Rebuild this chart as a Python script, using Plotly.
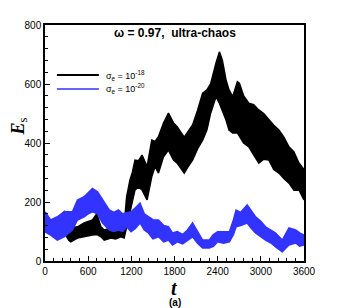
import plotly.graph_objects as go

# ---- data (envelope of the fast oscillation) ----
t_black = [0, 60, 120, 180, 270, 330, 358, 451, 544, 600, 660, 720, 777, 823, 917, 980,
           1056, 1100, 1135, 1181, 1214, 1251, 1300, 1349, 1419, 1484, 1530, 1577, 1647,
           1716, 1786, 1837, 1935, 1990, 2051, 2120, 2191, 2250, 2302, 2377, 2424, 2465,
           2516, 2558, 2609, 2674, 2702, 2760, 2833, 2900, 2972, 3040, 3112, 3180, 3251,
           3320, 3391, 3460, 3530, 3600]
black_lo = [105, 95, 85, 80, 95, 70, 65, 78, 82, 85, 88, 90, 82, 71, 78, 75,
            82, 78, 120, 173, 200, 241, 250, 241, 207, 286, 320, 298, 353,
            376, 342, 332, 298, 320, 342, 380, 410, 444, 501, 557, 535, 512,
            478, 444, 434, 434, 421, 400, 387, 360, 332, 345, 342, 310, 298,
            280, 264, 240, 241, 207]
black_hi = [150, 135, 140, 145, 167, 120, 112, 116, 129, 133, 139, 160, 116, 105, 112, 115,
            116, 120, 218, 275, 300, 342, 340, 359, 320, 410, 405, 421, 468,
            501, 468, 455, 420, 440, 461, 510, 569, 580, 600, 671, 709, 681,
            614, 580, 557, 608, 603, 560, 535, 530, 512, 500, 478, 460, 444,
            420, 387, 370, 332, 310]

t_blue = [0, 79, 172, 265, 381, 451, 544, 600, 660, 730, 800, 893, 960, 1019, 1080, 1135,
          1196, 1256, 1321, 1380, 1437, 1500, 1577, 1650, 1716, 1772, 1840, 1912, 1980,
          2051, 2120, 2191, 2284, 2340, 2400, 2480, 2563, 2620, 2656, 2720, 2810, 2870,
          2926, 3000, 3065, 3140, 3205, 3298, 3391, 3484, 3540, 3600]
blue_lo = [99, 88, 71, 82, 105, 139, 150, 160, 167, 160, 129, 105, 100, 105, 100, 116,
           99, 110, 129, 105, 95, 75, 82, 65, 71, 54, 65, 58, 70,
           82, 60, 44, 44, 50, 65, 60, 65, 90, 116, 120, 129, 110,
           95, 82, 71, 61, 48, 31, 54, 61, 50, 54]
blue_hi = [167, 139, 150, 167, 167, 207, 218, 230, 246, 235, 207, 173, 165, 173, 160, 163,
           167, 180, 196, 160, 150, 140, 139, 120, 116, 95, 100, 90, 105,
           129, 100, 71, 71, 90, 99, 100, 99, 140, 173, 165, 190, 170,
           150, 135, 116, 105, 95, 71, 112, 105, 95, 88]

x_ticks = [0, 600, 1200, 1800, 2400, 3000, 3600]
y_ticks = [0, 200, 400, 600, 800]
legend_labels = ["σ<sub>e</sub> = 10<sup>-18</sup>", "σ<sub>e</sub> = 10<sup>-20</sup>"]

BLACK = "#000000"
BLUE = "#3333ff"


def band(t, lo, hi, color, name):
    return go.Scatter(
        x=list(t) + list(t)[::-1],
        y=list(hi) + list(lo)[::-1],
        fill="toself", fillcolor=color,
        mode="lines", line=dict(color=color, width=1.5),
        name=name, hoverinfo="skip", showlegend=False,
    )


fig = go.Figure()
fig.add_trace(band(t_black, black_lo, black_hi, BLACK, legend_labels[0]))
fig.add_trace(band(t_blue, blue_lo, blue_hi, BLUE, legend_labels[1]))

axis_common = dict(
    showline=True, linecolor="black", linewidth=1.5, mirror=True,
    ticks="inside", ticklen=5, tickwidth=1, tickcolor="black",
    showgrid=False, zeroline=False,
    tickfont=dict(family="Liberation Sans, Arial", size=10, color="black"),
)

fig.update_xaxes(range=[0, 3600], tickvals=x_ticks,
                 minor=dict(dtick=120, ticks="inside", ticklen=3, tickcolor="black"),
                 **axis_common)
fig.update_yaxes(range=[0, 800], tickvals=y_ticks,
                 minor=dict(dtick=40, ticks="inside", ticklen=3, tickcolor="black"),
                 **axis_common)

# legend drawn as line samples + labels
legend_y = [0.788, 0.729]
legend_colors = [BLACK, BLUE]
legend_widths = [2, 1.5]
shapes = []
annotations = []
for yy, col, lw, lab in zip(legend_y, legend_colors, legend_widths, legend_labels):
    shapes.append(dict(type="line", xref="paper", yref="paper", x0=0.046, x1=0.208,
                       y0=yy, y1=yy, line=dict(color=col, width=lw)))
    annotations.append(dict(text=lab, x=0.228, y=yy, xref="paper", yref="paper",
                            showarrow=False, xanchor="left", yanchor="middle",
                            font=dict(family="Liberation Sans, Arial", size=9, color="black")))

annotations += [
    dict(text="<b>ω = 0.97,  ultra-chaos</b>", x=0.5, y=0.965,
         xref="paper", yref="paper", showarrow=False, yanchor="middle",
         font=dict(family="Liberation Sans, Arial", size=12, color="black")),
    dict(text="<b><i>E</i></b><sub>s</sub>", x=-0.1, y=0.57, xref="paper", yref="paper",
         showarrow=False, textangle=-90, xanchor="center", yanchor="middle",
         font=dict(family="Liberation Serif, Times New Roman", size=18, color="black")),
    dict(text="<b><i>t</i></b>", x=0.5, y=-0.058, xref="paper", yref="paper",
         showarrow=False, xanchor="center", yanchor="top",
         font=dict(family="Liberation Serif, Times New Roman", size=20, color="black")),
    dict(text="<b>(a)</b>", x=0.5, y=-0.175, xref="paper", yref="paper",
         showarrow=False, xanchor="center", yanchor="middle",
         font=dict(family="Liberation Sans, Arial", size=10, color="black")),
]

fig.update_layout(
    width=338, height=300,
    margin=dict(l=37, r=42, t=17, b=47),
    paper_bgcolor="white", plot_bgcolor="white",
    showlegend=False,
    shapes=shapes,
    annotations=annotations,
)

fig.write_html("out.html")
